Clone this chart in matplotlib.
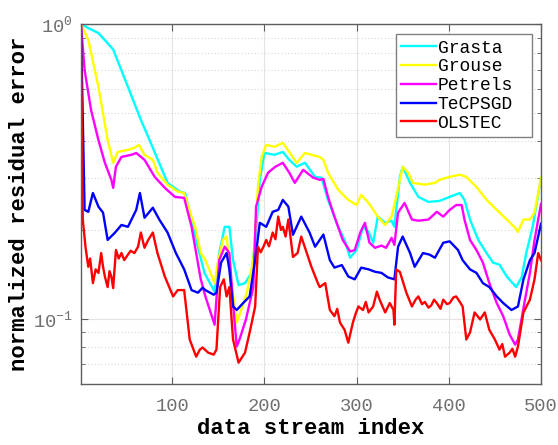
import matplotlib
import matplotlib.pyplot as plt
import numpy as np
from matplotlib.ticker import FixedLocator, NullFormatter

matplotlib.use("Agg")

# Données (indice du flux, erreur résiduelle normalisée)
grasta_x = [1, 9, 20, 36, 52, 66, 74, 95, 108, 114, 125, 135, 146, 151, 157, 162, 166, 172,
            179, 186, 191, 195, 200, 211, 220, 227, 235, 244, 255, 262, 269, 280, 287, 293,
            300, 307, 313, 318, 323, 331, 338, 341, 347, 350, 358, 367, 378, 390, 401, 412,
            417, 423, 432, 441, 448, 455, 463, 473, 479, 484, 491, 500]
grasta_y = [1.0, 0.969, 0.932, 0.820, 0.612, 0.473, 0.414, 0.289, 0.270, 0.267, 0.190, 0.143,
            0.1235, 0.167, 0.205, 0.205, 0.158, 0.130, 0.132, 0.143, 0.196, 0.296, 0.365,
            0.360, 0.368, 0.346, 0.328, 0.338, 0.303, 0.301, 0.253, 0.205, 0.185, 0.161,
            0.171, 0.205, 0.197, 0.181, 0.222, 0.2115, 0.215, 0.205, 0.303, 0.328, 0.289,
            0.259, 0.249, 0.251, 0.259, 0.267, 0.253, 0.217, 0.185, 0.167, 0.155, 0.1525,
            0.139, 0.128, 0.138, 0.167, 0.205, 0.300]

grouse_x = [1, 9, 20, 30, 36, 41, 52, 59, 64, 70, 79, 84, 95, 106, 113, 122, 125, 131, 136,
            146, 150, 155, 159, 164, 170, 174, 181, 188, 193, 197, 202, 211, 220, 227, 235,
            244, 251, 260, 264, 269, 280, 291, 300, 305, 313, 323, 331, 338, 343, 350, 356,
            361, 374, 385, 390, 401, 412, 419, 430, 441, 452, 463, 472, 475, 481, 488, 493, 500]
grouse_y = [1.0, 0.883, 0.612, 0.404, 0.338, 0.368, 0.374, 0.380, 0.389, 0.360, 0.346, 0.313,
            0.285, 0.270, 0.267, 0.217, 0.205, 0.167, 0.158, 0.132, 0.158, 0.185, 0.190, 0.136,
            0.097, 0.105, 0.1225, 0.158, 0.280, 0.354, 0.389, 0.383, 0.395, 0.368, 0.338,
            0.365, 0.360, 0.354, 0.346, 0.313, 0.274, 0.253, 0.243, 0.263, 0.247, 0.222,
            0.208, 0.222, 0.259, 0.328, 0.313, 0.289, 0.285, 0.289, 0.296, 0.303, 0.308,
            0.303, 0.280, 0.253, 0.234, 0.217, 0.2035, 0.197, 0.217, 0.217, 0.229, 0.300]

petrels_x = [1, 5, 12, 20, 27, 34, 36, 39, 45, 56, 61, 70, 81, 92, 103, 113, 121, 125, 131,
             136, 146, 151, 157, 162, 166, 170, 173, 180, 188, 191, 197, 204, 212, 220, 227,
             233, 242, 253, 260, 264, 269, 276, 285, 293, 298, 304, 309, 314, 320, 327, 332,
             338, 341, 345, 352, 360, 367, 378, 387, 394, 401, 408, 414, 417, 423, 430, 437,
             444, 452, 459, 466, 472, 475, 482, 488, 493, 500]
petrels_y = [1.0, 0.698, 0.511, 0.404, 0.338, 0.296, 0.278, 0.328, 0.354, 0.360, 0.365, 0.346,
             0.303, 0.278, 0.259, 0.257, 0.205, 0.174, 0.136, 0.119, 0.0954, 0.158, 0.1755,
             0.167, 0.113, 0.0804, 0.085, 0.0994, 0.128, 0.240, 0.280, 0.313, 0.328, 0.338,
             0.313, 0.289, 0.320, 0.301, 0.296, 0.298, 0.259, 0.222, 0.185, 0.169, 0.171,
             0.196, 0.2115, 0.181, 0.174, 0.177, 0.174, 0.188, 0.178, 0.229, 0.247, 0.217,
             0.215, 0.217, 0.2305, 0.222, 0.234, 0.243, 0.243, 0.217, 0.185, 0.171, 0.155,
             0.132, 0.113, 0.102, 0.0883, 0.0816, 0.085, 0.113, 0.143, 0.185, 0.245]

tecpsgd_x = [1, 5, 9, 14, 20, 25, 30, 38, 45, 52, 61, 65, 70, 79, 86, 95, 104, 113, 121, 128,
             133, 136, 145, 148, 153, 159, 162, 166, 170, 177, 184, 190, 195, 202, 209, 215,
             220, 226, 231, 240, 249, 255, 264, 271, 276, 284, 291, 298, 305, 313, 320, 327,
             334, 341, 345, 350, 358, 363, 372, 379, 385, 394, 401, 410, 415, 423, 430, 437,
             444, 452, 459, 468, 475, 481, 488, 493, 500]
tecpsgd_y = [1.0, 0.234, 0.2305, 0.267, 0.240, 0.229, 0.185, 0.196, 0.208, 0.205, 0.234, 0.267,
             0.220, 0.238, 0.217, 0.196, 0.167, 0.147, 0.125, 0.1225, 0.1274, 0.125, 0.1206,
             0.1225, 0.155, 0.167, 0.147, 0.110, 0.107, 0.113, 0.119, 0.158, 0.2115, 0.205,
             0.2305, 0.234, 0.253, 0.240, 0.1926, 0.222, 0.196, 0.1755, 0.193, 0.158, 0.149,
             0.152, 0.139, 0.136, 0.149, 0.147, 0.1443, 0.143, 0.138, 0.136, 0.1755, 0.190,
             0.167, 0.150, 0.167, 0.165, 0.161, 0.181, 0.183, 0.171, 0.158, 0.147, 0.143,
             0.132, 0.128, 0.119, 0.113, 0.107, 0.110, 0.136, 0.158, 0.167, 0.210]

olstec_x = [1, 3, 6, 9, 11, 14, 17, 20, 23, 25, 27, 30, 32, 34, 36, 39, 42, 45, 48, 52, 55,
            59, 63, 66, 70, 74, 79, 84, 92, 101, 106, 113, 119, 126, 130, 133, 139, 145, 148,
            152, 156, 159, 162, 166, 172, 179, 184, 190, 193, 196, 199, 202, 205, 209, 212,
            215, 218, 220, 223, 226, 231, 236, 240, 246, 251, 258, 260, 266, 271, 276, 279,
            282, 287, 291, 296, 299, 302, 307, 310, 313, 318, 322, 325, 331, 336, 340, 341,
            343, 347, 354, 360, 364, 367, 371, 374, 378, 381, 384, 387, 391, 394, 398, 401,
            405, 408, 412, 415, 419, 423, 428, 434, 439, 444, 450, 455, 458, 461, 466, 469,
            472, 475, 481, 488, 493, 497, 500]
olstec_y = [1.0, 0.217, 0.175, 0.150, 0.160, 0.132, 0.147, 0.143, 0.167, 0.150, 0.139, 0.128,
            0.145, 0.139, 0.127, 0.171, 0.160, 0.167, 0.158, 0.165, 0.170, 0.167, 0.1755,
            0.196, 0.174, 0.185, 0.196, 0.167, 0.139, 0.119, 0.125, 0.125, 0.085, 0.0743,
            0.0785, 0.0798, 0.0767, 0.0755, 0.0785, 0.128, 0.136, 0.119, 0.128, 0.085, 0.0709,
            0.0767, 0.0897, 0.110, 0.1755, 0.168, 0.1755, 0.185, 0.176, 0.196, 0.186, 0.222,
            0.200, 0.205, 0.190, 0.217, 0.162, 0.167, 0.190, 0.167, 0.150, 0.132, 0.128,
            0.132, 0.107, 0.102, 0.108, 0.097, 0.0916, 0.0829, 0.097, 0.104, 0.110, 0.107,
            0.114, 0.105, 0.110, 0.1235, 0.116, 0.105, 0.113, 0.107, 0.0954, 0.147, 0.144,
            0.1225, 0.110, 0.116, 0.119, 0.112, 0.114, 0.109, 0.111, 0.116, 0.113, 0.108,
            0.116, 0.112, 0.113, 0.118, 0.119, 0.114, 0.110, 0.085, 0.0897, 0.105, 0.0994,
            0.105, 0.0916, 0.085, 0.0785, 0.082, 0.0743, 0.0767, 0.079, 0.0743, 0.0804,
            0.105, 0.116, 0.136, 0.167, 0.158]

series = [
    ("Grasta", grasta_x, grasta_y, "#00ffff"),
    ("Grouse", grouse_x, grouse_y, "#ffff00"),
    ("Petrels", petrels_x, petrels_y, "#ff00ff"),
    ("TeCPSGD", tecpsgd_x, tecpsgd_y, "#0000ff"),
    ("OLSTEC", olstec_x, olstec_y, "#ff0000"),
]

x_ticks = [100, 200, 300, 400, 500]
y_major = [0.1, 1.0]
y_major_labels = [r"$\mathregular{10^{-1}}$", r"$\mathregular{10^{0}}$"]

plt.rcParams["font.family"] = ["Liberation Mono", "DejaVu Sans Mono"]
plt.rcParams["axes.unicode_minus"] = True

fig = plt.figure(figsize=(5.58, 4.45), dpi=100)
ax = fig.add_axes([0.145, 0.137, 0.8245, 0.809])

for name, xs, ys, col in series:
    ax.plot(xs, ys, color=col, lw=1.7, label=name)

ax.set_yscale("log")
ax.set_xlim(1, 500)
ax.set_ylim(0.06, 1.0)

ax.set_xticks(x_ticks)
ax.yaxis.set_major_locator(FixedLocator(y_major))
ax.set_yticklabels(y_major_labels)
ax.yaxis.set_minor_locator(FixedLocator([0.06, 0.07, 0.08, 0.09, 0.2, 0.3, 0.4, 0.5,
                                         0.6, 0.7, 0.8, 0.9]))
ax.yaxis.set_minor_formatter(NullFormatter())

gris = "#5e5e5e"
for sp in ax.spines.values():
    sp.set_color(gris)
    sp.set_linewidth(1.0)
ax.tick_params(which="both", direction="in", top=True, right=True, colors=gris,
               labelcolor="#707070", labelsize=13.5)
ax.tick_params(which="major", length=5)
ax.tick_params(which="minor", length=3)
ax.tick_params(axis="x", which="major", pad=10)
ax.tick_params(axis="y", which="major", pad=6)

ax.grid(True, which="major", color="#e3e3e3", lw=0.8, ls="-")
ax.grid(True, which="minor", axis="y", color="#d8d8d8", lw=0.8, ls=(0, (1, 2)))
ax.set_axisbelow(True)

ax.set_xlabel("data stream index", fontsize=16, fontweight="bold", labelpad=2)
ax.set_ylabel("normalized residual error", fontsize=16, fontweight="bold", labelpad=2)

# cadre de légende élargi comme dans MATLAB
leg = ax.legend(loc="upper right", bbox_to_anchor=(0.685, 0.5, 0.296, 0.472), mode="expand",
                fontsize=13, frameon=True, fancybox=False, edgecolor="#808080", framealpha=1,
                handlelength=1.9, handletextpad=0.1, labelspacing=0.1,
                borderpad=0.3, borderaxespad=0)
leg.get_frame().set_linewidth(1.0)

plt.savefig("out.png", dpi=100)
